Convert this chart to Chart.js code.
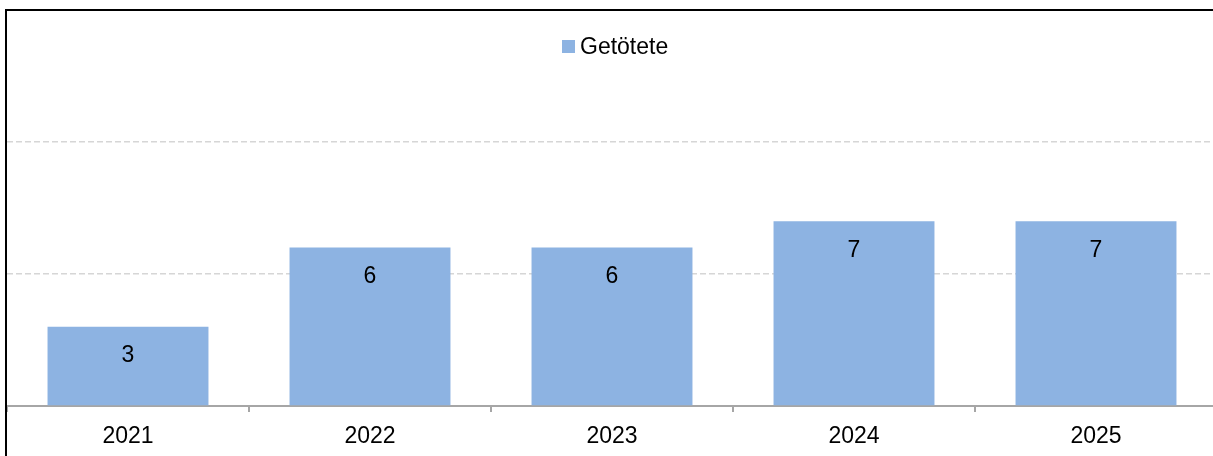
<!DOCTYPE html>
<html>
<head>
<meta charset="utf-8">
<script src="https://cdn.jsdelivr.net/npm/chart.js@4.4.1/dist/chart.umd.min.js"></script>
<style>
  html, body { margin: 0; padding: 0; background: #fff; overflow: hidden; }
  #wrap { position: relative; width: 1217px; height: 456px; }
</style>
</head>
<body>
<div id="wrap"><canvas id="c"></canvas></div>
<script>
// chart data
const years = ["2021", "2022", "2023", "2024", "2025"];
const killed = [3, 6, 6, 7, 7];
const seriesName = "Getötete";
const barColor = "#8db3e2";
const font = "Arial, 'Liberation Sans', sans-serif";

// value labels near the top inside each bar
const valueLabels = {
  id: "valueLabels",
  afterDatasetsDraw(chart) {
    const ctx = chart.ctx;
    const meta = chart.getDatasetMeta(0);
    ctx.save();
    ctx.font = "23px " + font;
    ctx.fillStyle = "#000";
    ctx.textAlign = "center";
    ctx.textBaseline = "middle";
    meta.data.forEach((bar, i) => {
      ctx.fillText(String(killed[i]), bar.x, bar.y + 29);
    });
    ctx.restore();
  }
};

// legend inside plot + black frame on left/top
const frameAndLegend = {
  id: "frameAndLegend",
  afterDraw(chart) {
    const ctx = chart.ctx;
    ctx.save();
    ctx.fillStyle = barColor;
    ctx.fillRect(562, 40, 13, 13);
    ctx.font = "23px " + font;
    ctx.fillStyle = "#000";
    ctx.textAlign = "left";
    ctx.textBaseline = "middle";
    ctx.fillText(seriesName, 580, 48);

    ctx.strokeStyle = "#000";
    ctx.lineWidth = 2;
    ctx.beginPath();
    ctx.moveTo(6, 456);
    ctx.lineTo(6, 10);
    ctx.lineTo(chart.width, 10);
    ctx.stroke();
    ctx.restore();
  }
};

new Chart(document.getElementById("c"), {
  type: "bar",
  data: {
    labels: years,
    datasets: [{
      label: seriesName,
      data: killed,
      backgroundColor: barColor,
      borderWidth: 0,
      barPercentage: 0.665,
      categoryPercentage: 1
    }]
  },
  options: {
    responsive: true,
    maintainAspectRatio: false,
    animation: false,
    layout: { padding: { left: 7, top: 10, right: 0, bottom: 0 } },
    plugins: { legend: { display: false }, tooltip: { enabled: false } },
    scales: {
      x: {
        grid: { offset: true, drawOnChartArea: false, drawTicks: true, tickLength: 6, color: "#a6a6a6", lineWidth: 2 },
        border: { color: "#a6a6a6", width: 2 },
        ticks: { color: "#000", font: { family: font, size: 23 }, padding: 11, maxRotation: 0 },
        afterFit: s => { s.height = 50; }
      },
      y: {
        min: 0,
        max: 15,
        ticks: { display: false, stepSize: 5 },
        border: { display: false, dash: [6, 3] },
        grid: { color: "#d6d6d6", lineWidth: 1.5, drawTicks: false },
        afterFit: s => { s.width = 0; }
      }
    }
  },
  plugins: [valueLabels, frameAndLegend]
});
</script>
</body>
</html>
